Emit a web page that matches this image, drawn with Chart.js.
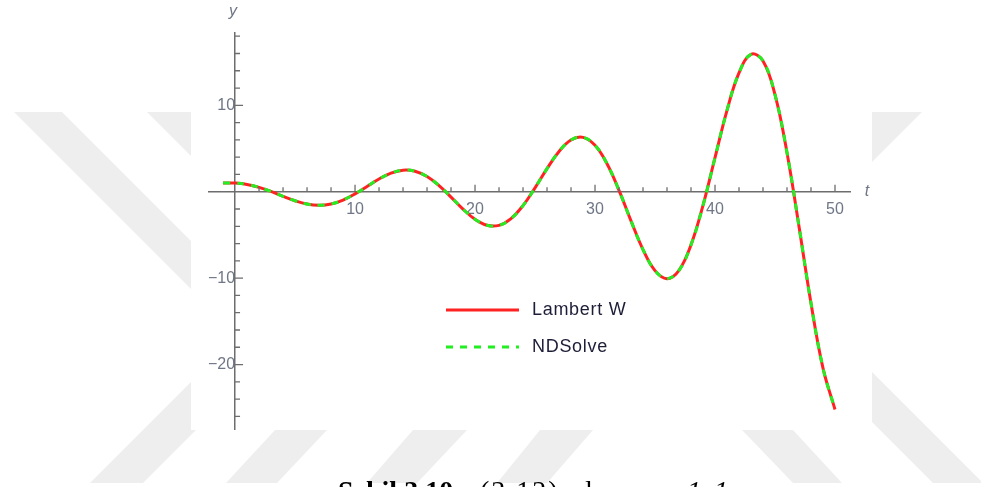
<!DOCTYPE html>
<html>
<head>
<meta charset="utf-8">
<script src="https://cdn.jsdelivr.net/npm/chart.js@4/dist/chart.umd.min.js"></script>
<style>
  html, body { margin: 0; padding: 0; background: #ffffff; overflow: hidden; }
  #page { position: relative; width: 981px; height: 487px; overflow: hidden; }
  #mark { position: absolute; left: 0; top: 0; }
  #plotBox { position: absolute; left: 191px; top: 0; width: 681px; height: 430px; background: #ffffff; }
  #wrap { position: absolute; left: 0; top: 0; width: 981px; height: 487px; }
  .cap { position: absolute; top: 477px; font-family: "Liberation Serif", "Times New Roman", serif;
         font-size: 28px; line-height: 28px; color: #000; white-space: nowrap; }
</style>
</head>
<body>
<div id="page">
  <svg id="mark" width="981" height="487" viewBox="0 0 981 487">
    <defs><clipPath id="strip"><rect x="0" y="112" width="981" height="371"/></clipPath></defs>
    <g fill="#eeeeee" clip-path="url(#strip)">
      <polygon points="14,112 62,112 330,380 282,380"/>
      <polygon points="147,112 197,112 300,215 250,215"/>
      <polygon points="90,483 143,483 250,376 197,376"/>
      <polygon points="226,483 277,483 327,430 275,430"/>
      <polygon points="367,483 417,483 467,430 413,430"/>
      <polygon points="497,483 547,483 593,430 540,430"/>
      <polygon points="742,430 793,430 842,483 793,483"/>
      <polygon points="780,330 830,330 983,483 933,483"/>
      <polygon points="872,112 922,112 850,184 800,184"/>
    </g>
  </svg>
  <div id="plotBox"></div>
  <div id="wrap"><canvas id="chart"></canvas></div>
  <div class="cap" style="left:338px;font-weight:bold;">Şekil 3.10.</div>
  <div class="cap" style="left:480px;letter-spacing:2px;">(3.12)</div>
  <div class="cap" style="left:578px;">de</div>
  <div class="cap" style="left:617px;font-style:italic;">a<sub style="font-size:18px;">0</sub></div>
  <div class="cap" style="left:652px;">=</div>
  <div class="cap" style="left:687px;font-style:italic;letter-spacing:3px;">1.1</div>
</div>
<script>
// Time samples t and the solution y(t) from both methods
const tValues = [-1, -0.5, 0, 1, 2, 3, 4, 5, 6, 7, 8, 9, 10, 11, 12, 13, 14, 15, 16, 17, 18, 19, 20,
  21, 22, 23, 24, 25, 26, 27, 28, 29, 30, 31, 32, 33, 34, 35, 36, 37, 38, 39, 40,
  41, 42, 43, 44, 45, 46, 47, 48, 49, 50];

const lambertW = [1.00, 1.00, 1.00, 0.84, 0.51, 0.03, -0.53, -1.05, -1.43, -1.57, -1.42, -0.96, -0.25,
  0.61, 1.47, 2.15, 2.49, 2.37, 1.76, 0.71, -0.62, -2.02, -3.19,
  -3.88, -3.89, -3.11, -1.60, 0.44, 2.67, 4.66, 5.99, 6.29, 5.37,
  3.24, 0.16, -3.37, -6.70, -9.13, -10.06, -9.09, -6.15, -1.58, 3.94,
  9.42, 13.75, 15.90, 15.14, 11.23, 4.52, -4.02, -12.91, -20.42, -25.20];

const ndSolve = [1.00, 1.00, 1.00, 0.84, 0.51, 0.03, -0.53, -1.05, -1.43, -1.57, -1.42, -0.96, -0.25,
  0.61, 1.47, 2.15, 2.49, 2.37, 1.76, 0.71, -0.62, -2.02, -3.19,
  -3.88, -3.89, -3.11, -1.60, 0.44, 2.67, 4.66, 5.99, 6.29, 5.37,
  3.24, 0.16, -3.37, -6.70, -9.13, -10.06, -9.09, -6.15, -1.58, 3.94,
  9.42, 13.75, 15.90, 15.14, 11.23, 4.52, -4.02, -12.91, -20.42, -25.20];

const seriesNames = ['Lambert W', 'NDSolve'];
const majorStep = 10;
const minorStep = 2;
const axisNames = { x: 't', y: 'y' };

const toPoints = (ys) => tValues.map((t, i) => ({ x: t, y: ys[i] }));
const tickText = (v) => (v % majorStep === 0 && v !== 0) ? (v < 0 ? '\u2212' + Math.abs(v) : String(v)) : '';

const AXIS_COLOR = '#6d6d6d';
const LABEL_COLOR = '#6f7686';

// Inward tick marks, the axis names and the in-plot legend
const decorations = {
  id: 'decorations',
  afterDraw(chart) {
    const ctx = chart.ctx;
    const xs = chart.scales.x, ys = chart.scales.y;
    const x0 = xs.getPixelForValue(0), y0 = ys.getPixelForValue(0);
    ctx.save();
    ctx.strokeStyle = AXIS_COLOR;
    ctx.lineWidth = 1.3;
    ctx.beginPath();
    xs.ticks.forEach(tk => {
      const v = tk.value;
      if (v <= 0 || Math.abs(v % minorStep) > 1e-9) return;
      const len = (v % majorStep === 0) ? 7 : 4.5;
      const px = xs.getPixelForValue(v);
      ctx.moveTo(px, y0); ctx.lineTo(px, y0 - len);
    });
    ys.ticks.forEach(tk => {
      const v = tk.value;
      if (v === 0 || Math.abs(v % minorStep) > 1e-9) return;
      const len = (v % majorStep === 0) ? 8 : 5;
      const py = ys.getPixelForValue(v);
      ctx.moveTo(x0, py); ctx.lineTo(x0 + len, py);
    });
    ctx.stroke();

    // axis names
    ctx.fillStyle = LABEL_COLOR;
    ctx.font = 'italic 16px "Liberation Sans", Arial, sans-serif';
    ctx.textAlign = 'center';
    ctx.textBaseline = 'middle';
    ctx.fillText(axisNames.y, x0 - 2, chart.chartArea.top - 21);
    ctx.fillText(axisNames.x, chart.chartArea.right + 17, y0);

    // legend
    const lx = chart.chartArea.left + 237, ly = chart.chartArea.top + 277, gap = 37;
    chart.data.datasets.forEach((ds, i) => {
      const yy = ly + i * gap;
      ctx.beginPath();
      ctx.strokeStyle = ds.borderColor;
      ctx.lineWidth = 3;
      ctx.setLineDash(ds.borderDash || []);
      ctx.moveTo(lx, yy); ctx.lineTo(lx + 73, yy);
      ctx.stroke();
      ctx.setLineDash([]);
      ctx.fillStyle = '#1d1d38';
      ctx.font = '18px "Liberation Sans", Arial, sans-serif';
      ctx.letterSpacing = '0.7px';
      ctx.textAlign = 'left';
      ctx.fillText(ds.label, lx + 86, yy);
    });
    ctx.restore();
  }
};

new Chart(document.getElementById('chart'), {
  type: 'line',
  data: {
    datasets: [
      { label: seriesNames[0], data: toPoints(lambertW), borderColor: '#ff2222', borderWidth: 3,
        pointRadius: 0, tension: 0.4, fill: false, order: 1 },
      { label: seriesNames[1], data: toPoints(ndSolve), borderColor: '#22ee22', borderWidth: 3,
        borderDash: [7, 7], pointRadius: 0, tension: 0.4, fill: false, order: 0 }
    ]
  },
  options: {
    responsive: true,
    maintainAspectRatio: false,
    animation: false,
    events: [],
    layout: { padding: { left: 209, right: 131, top: 33, bottom: 58 } },
    plugins: { legend: { display: false }, tooltip: { enabled: false }, title: { display: false } },
    scales: {
      x: {
        type: 'linear',
        position: { y: 0 },
        min: -2.17, max: 51.25,
        grid: { display: false, drawTicks: false },
        border: { display: true, color: AXIS_COLOR, width: 1.5 },
        ticks: { stepSize: minorStep, includeBounds: false, autoSkip: false, maxRotation: 0,
                 maxTicksLimit: 200, padding: 8, color: LABEL_COLOR, callback: tickText,
                 font: { family: '"Liberation Sans", Arial, sans-serif', size: 16 } }
      },
      y: {
        type: 'linear',
        position: { x: 0 },
        min: -27.46, max: 18.37,
        grid: { display: false, drawTicks: false },
        border: { display: true, color: AXIS_COLOR, width: 1.5 },
        ticks: { stepSize: minorStep, includeBounds: false, autoSkip: false,
                 maxTicksLimit: 200, padding: 10, color: LABEL_COLOR, callback: tickText,
                 font: { family: '"Liberation Sans", Arial, sans-serif', size: 16 } }
      }
    }
  },
  plugins: [decorations]
});
</script>
</body>
</html>
